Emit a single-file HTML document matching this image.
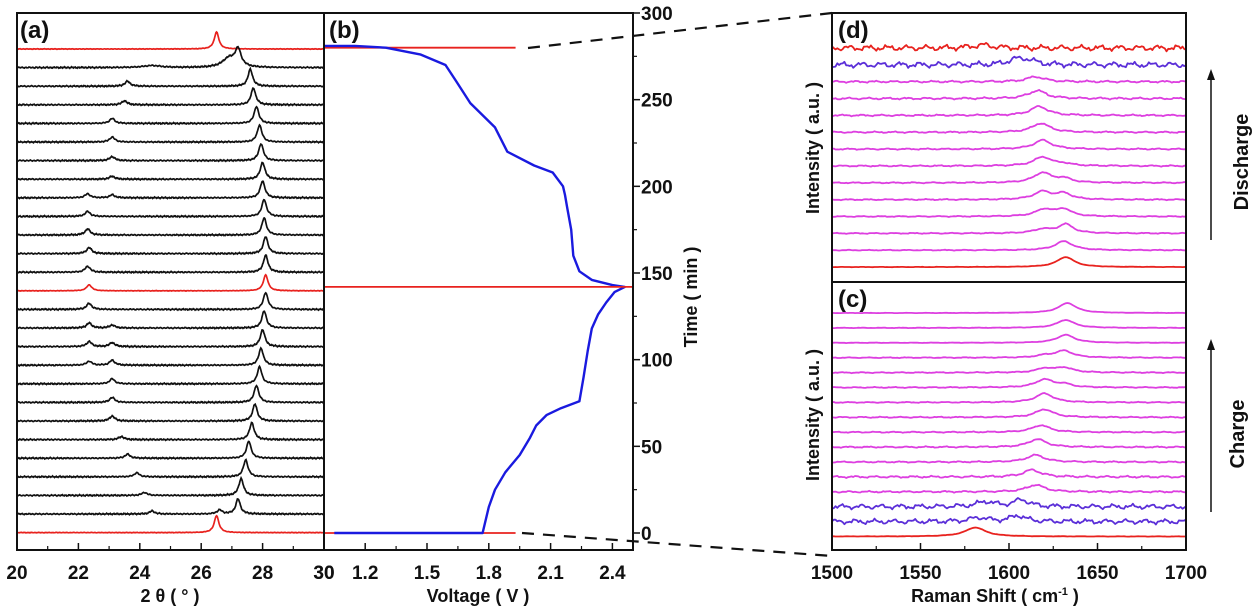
<!DOCTYPE html>
<html><head><meta charset="utf-8"><style>
html,body{margin:0;padding:0;background:#fff;}
svg{display:block;font-family:"Liberation Sans",Arial,sans-serif;}
</style></head><body>
<svg id="fig" width="1254" height="607" viewBox="0 0 1254 607" xmlns="http://www.w3.org/2000/svg"></svg>
<script>
// ---------- Panel (a) XRD data ----------
const xrdColors = ['r','k','k','k','k','k','k','k','k','k','k','k','k','r','k','k','k','k','k','k','k','k','k','k','k','k','r'];
const xrdMainPos = [26.5,27.2,27.6,27.7,27.8,27.9,27.95,28.0,28.0,28.05,28.05,28.1,28.1,28.1,28.1,28.05,28.0,27.95,27.9,27.8,27.75,27.65,27.55,27.45,27.3,27.2,26.5];
const xrdMainH = [17,17,17,17,17,17,17,17,17,17,17,17,17,16,17,17,17,17,17,17,17,17,17,17,17,15,17];
const xrdSecPos = [0,24.4,23.6,23.5,23.1,23.1,23.1,23.1,22.3,22.3,22.3,22.35,22.3,22.35,22.35,22.35,22.35,22.35,23.1,23.1,23.1,23.4,23.6,23.9,24.15,24.4,0];
const xrdSecH = [0,2,5,4,5,5,4,3,4,5,6,6,6,6,6,5,5,4,5,5,5,3,4,4,3,3,0];
const xrdThirdPos = [0,0,0,0,0,0,0,0,23.1,0,0,0,0,0,0,23.1,23.1,23.1,0,0,0,0,0,0,0,26.6,0];
const xrdThirdH = [0,0,0,0,0,0,0,0,3,0,0,0,0,0,0,3,4,5,0,0,0,0,0,0,0,4,0];
const xrdTicks = [20,22,24,26,28,30];
// ---------- Panel (b) voltage/time ----------
const vVolt = [1.05,1.77,1.80,1.83,1.88,1.95,2.00,2.03,2.08,2.15,2.24,2.26,2.28,2.30,2.33,2.37,2.41,2.46,2.40,2.30,2.24,2.21,2.20,2.18,2.17,2.16,2.11,2.02,1.89,1.83,1.71,1.64,1.59,1.47,1.30,1.15,1.0];
const vTime = [0,0,15,25,35,45,55,62,68,72,76,90,105,118,126,133,139,142,143,146,151,160,175,188,195,200,208,212,220,234,248,261,270,276,280,281,281];
const voltTicks = [1.2,1.5,1.8,2.1,2.4];
const timeTicks = [0,50,100,150,200,250,300];
// ---------- Panel (d) Raman discharge (top to bottom) ----------
const dColors = ['r','b','m','m','m','m','m','m','m','m','m','m','m','r'];
const dPos1 = [1585,1610,1615,1616,1617,1618,1619,1619,1619,1619,1620,1619,1631,1632];
const dH1 = [3,5,5,8,9,9,9,9,10,8,7,4,9,10];
const dPos2 = [0,1603,0,0,0,0,0,1631,1631,1631,1631,1632,0,0];
const dH2 = [0,4,0,0,0,0,0,2,4,6,7,9,0,0];
const dNoise = [3.5,3.5,1.2,1.2,1,0.9,0.8,0.8,0.7,0.7,0.6,0.6,0.5,0.2];
// ---------- Panel (c) Raman charge (top to bottom) ----------
const cColors = ['m','m','m','m','m','m','m','m','m','m','m','m','m','b','b','r'];
const cPos1 = [1633,1632,1632,1631,1631,1620,1620,1620,1618,1616,1615,1613,1615,1587,1583,1581];
const cH1 = [10,8,8,7,5,8,9,8,7,8,7,7,7,5,4,9];
const cPos2 = [0,0,0,1620,1620,1631,0,0,0,0,0,0,0,1607,1605,0];
const cH2 = [0,0,0,2,4,3,0,0,0,0,0,0,0,7,6,0];
const cNoise = [0.2,0.3,0.3,0.5,0.6,0.6,0.6,0.7,0.7,0.8,0.8,1.2,1,3,3,0.2];
const ramanTicks = [1500,1550,1600,1650,1700];

const NS='http://www.w3.org/2000/svg';
const svg=document.getElementById('fig');
function mk(tag,attrs,parent){const e=document.createElementNS(NS,tag);for(const k in attrs)e.setAttribute(k,attrs[k]);(parent||svg).appendChild(e);return e;}
function txt(s,x,y,size,anchor,parent,rot){const t=mk('text',{x:x,y:y,'font-size':size,'font-weight':'bold','text-anchor':anchor||'middle',fill:'#111'},parent);if(rot)t.setAttribute('transform','rotate(-90 '+x+' '+y+')');t.textContent=s;return t;}
const COL={r:'#e8221e',k:'#111',m:'#dd3fe0',b:'#5b2fd8'};
function lor(x,c,h,w){return c? h/(1+((x-c)/w)*((x-c)/w)) : 0;}
function wig(x,i,a){return a*(Math.sin(x*1.37+i*2.1)*0.5+Math.sin(x*3.91+i*0.7)*0.3+Math.sin(x*7.3+i*1.3)*0.2);}

// ====== Panel (a) ======
const A={x0:17,x1:324,y0:13,y1:550,d0:20,d1:30};
const ax=v=>A.x0+(v-A.d0)/(A.d1-A.d0)*(A.x1-A.x0);
const ga=mk('g',{});
xrdColors.forEach((c,i)=>{
  const base=49+i*18.6; let d='';
  for(let v=20;v<=30.001;v+=0.02){
    let y=lor(v,xrdMainPos[i],xrdMainH[i],i==1?0.12:0.09)+lor(v,xrdSecPos[i],xrdSecH[i],i==1?0.35:0.1)+lor(v,xrdThirdPos[i],xrdThirdH[i],0.1);
    if(i==1) y+=lor(v,26.9,9,0.25);
    y+=wig(v*40,i,c=='r'?0.3:0.8);
    d+=(d?'L':'M')+ax(v).toFixed(1)+','+(base-y).toFixed(1);
  }
  const p=mk('path',{d:d,fill:'none',stroke:COL[c],'stroke-width':1.7},ga);
  
  
});
mk('rect',{x:A.x0,y:A.y0,width:A.x1-A.x0,height:A.y1-A.y0,fill:'none',stroke:'#111','stroke-width':2,});
xrdTicks.forEach(v=>{mk('line',{x1:ax(v),x2:ax(v),y1:A.y1,y2:A.y1-7,stroke:'#111','stroke-width':1.5});txt(String(v),ax(v),579,19);});
for(let v=21;v<30;v+=2)mk('line',{x1:ax(v),x2:ax(v),y1:A.y1,y2:A.y1-4,stroke:'#111','stroke-width':1.2});
txt('2 θ ( ° )',170,602,18);
txt('(a)',20,38,24,'start');

// ====== Panel (b) ======
const B={x0:324,x1:633,y0:13,y1:550,v0:1.0,v1:2.5};
const bx=v=>B.x0+(v-B.v0)/(B.v1-B.v0)*(B.x1-B.x0);
const by=t=>533-t*(520/300);
const gb=mk('g',{});
mk('line',{x1:B.x0,x2:bx(1.93),y1:by(280),y2:by(280),stroke:COL.r,'stroke-width':1.8,},gb);
mk('line',{x1:B.x0,x2:bx(1.93),y1:by(0),y2:by(0),stroke:COL.r,'stroke-width':1.8,},gb);
let vd='';vVolt.forEach((v,i)=>{vd+=(i?'L':'M')+bx(v).toFixed(1)+','+by(vTime[i]).toFixed(1);});
mk('path',{d:vd,fill:'none',stroke:'#1a1adf','stroke-width':2.4,'stroke-linejoin':'round',},gb);
mk('line',{x1:B.x0,x2:B.x1,y1:by(142),y2:by(142),stroke:COL.r,'stroke-width':1.8,},gb);
mk('rect',{x:B.x0,y:B.y0,width:B.x1-B.x0,height:B.y1-B.y0,fill:'none',stroke:'#111','stroke-width':2,});
voltTicks.forEach(v=>{mk('line',{x1:bx(v),x2:bx(v),y1:B.y1,y2:B.y1-7,stroke:'#111','stroke-width':1.5});txt(v.toFixed(1),bx(v),579,19);});
[1.35,1.65,1.95,2.25].forEach(v=>mk('line',{x1:bx(v),x2:bx(v),y1:B.y1,y2:B.y1-4,stroke:'#111','stroke-width':1.2}));
txt('30',324,579,19);
timeTicks.forEach(t=>{mk('line',{x1:B.x1,x2:B.x1+7,y1:by(t),y2:by(t),stroke:'#111','stroke-width':1.5});txt(String(t),641,by(t)+7,19,'start');});
[25,75,125,175,225,275].forEach(t=>mk('line',{x1:B.x1,x2:B.x1+4,y1:by(t),y2:by(t),stroke:'#111','stroke-width':1.2}));
txt('Voltage ( V )',478,602,18);
txt('Time ( min )',697,297,18,'middle',null,true);
txt('(b)',329,38,24,'start');
// dashed zoom lines
mk('line',{x1:528,y1:48,x2:832,y2:13,stroke:'#111','stroke-width':2.2,'stroke-dasharray':'12,9',});
mk('line',{x1:522,y1:533,x2:832,y2:556,stroke:'#111','stroke-width':2.2,'stroke-dasharray':'12,9',});

// ====== Panels (d) and (c) ======
const R={x0:832,x1:1186,y0:13,ym:282,y1:550,r0:1500,r1:1700};
const rx=v=>R.x0+(v-R.r0)/(R.r1-R.r0)*(R.x1-R.x0);
function ramanSet(colors,p1,h1,p2,h2,nz,y0,step,name){
  const g=mk('g',{});
  colors.forEach((c,i)=>{
    const base=y0+i*step;let d='';
    for(let v=1500;v<=1700.01;v+=1){
      let y=lor(v,p1[i],h1[i],c=='r'&&p1[i]<1600?7:6)+lor(v,p2[i],h2[i],5)+wig(v*0.42,i+3,nz[i]);
      d+=(d?'L':'M')+rx(v).toFixed(1)+','+(base-y).toFixed(1);
    }
    const p=mk('path',{d:d,fill:'none',stroke:COL[c],'stroke-width':1.8,'stroke-linejoin':'round'},g);
    
    
  });
}
ramanSet(dColors,dPos1,dH1,dPos2,dH2,dNoise,48,16.85,'raman-discharge');
ramanSet(cColors,cPos1,cH1,cPos2,cH2,cNoise,313,14.9,'raman-charge');
mk('rect',{x:R.x0,y:R.y0,width:R.x1-R.x0,height:R.y1-R.y0,fill:'none',stroke:'#111','stroke-width':2,});
mk('line',{x1:R.x0,x2:R.x1,y1:R.ym,y2:R.ym,stroke:'#111','stroke-width':2,});
ramanTicks.forEach(v=>{mk('line',{x1:rx(v),x2:rx(v),y1:R.y1,y2:R.y1-7,stroke:'#111','stroke-width':1.5});txt(String(v),rx(v),579,19);});
[1525,1575,1625,1675].forEach(v=>mk('line',{x1:rx(v),x2:rx(v),y1:R.y1,y2:R.y1-4,stroke:'#111','stroke-width':1.2}));
const rt=txt('Raman Shift ( cm',995,602,18);
const sup=mk('tspan',{dy:-7,'font-size':11},rt);sup.textContent='-1';
const rest=mk('tspan',{dy:7},rt);rest.textContent=' )';
txt('Intensity ( a.u. )',819,148,18,'middle',null,true);
txt('Intensity ( a.u. )',819,415,18,'middle',null,true);
txt('(d)',838,38,24,'start');
txt('(c)',838,307,24,'start');
// arrows
mk('line',{x1:1211,y1:240,x2:1211,y2:78,stroke:'#111','stroke-width':1.5,});
mk('polygon',{points:'1207,80 1215,80 1211,69',fill:'#111'});
mk('line',{x1:1211,y1:512,x2:1211,y2:348,stroke:'#111','stroke-width':1.5,});
mk('polygon',{points:'1207,350 1215,350 1211,339',fill:'#111'});
txt('Discharge',1248,162,20,'middle',null,true);
txt('Charge',1244,434,20,'middle',null,true);
</script>
</body></html>
